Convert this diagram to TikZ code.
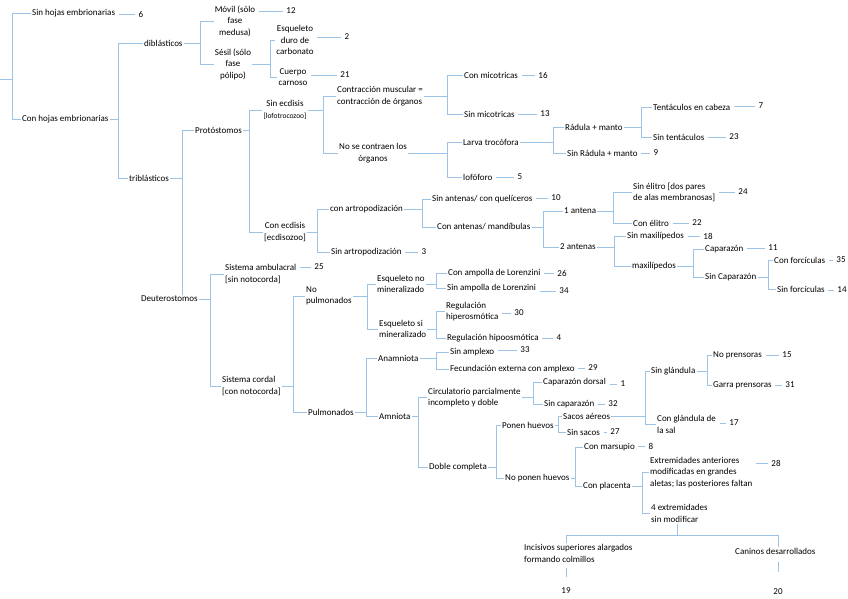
\documentclass[tikz,border=0pt]{standalone}
\usepackage{fontspec}
\setmainfont{Carlito}
\usepackage{xcolor}
\usepackage{tikz}

\definecolor{keyblue}{RGB}{157,195,230}
\newcommand{\keyfont}{\fontsize{9}{11.5}\selectfont}
\newcommand{\smallkey}{\fontsize{7.5}{11.5}\selectfont}

\begin{document}
\begin{tikzpicture}[
    x=1pt, y=-1pt,
    lbl/.style={font=\keyfont, inner sep=1pt, anchor=west, align=left},
    clbl/.style={font=\keyfont, inner sep=1pt, align=center},
    num/.style={font=\keyfont, inner sep=1pt},
    br/.style={draw=keyblue, line width=0.8pt},
    dsh/.style={br, shorten <=2.5pt, shorten >=2.5pt}
]
\useasboundingbox (0,0) rectangle (848,599);

% Nodes
\coordinate (root) at (0,79);
\node[lbl] (sinhojas) at (31,13) {Sin hojas embrionarias};
\node[lbl] (conhojas) at (21,119) {Con hojas embrionarias};
\node[lbl] (dib) at (143,43) {diblásticos};
\node[lbl] (trib) at (128,178) {triblásticos};
\node[clbl] (movil) at (235,21) {Móvil (sólo\\fase\\medusa)};
\node[clbl] (sesil) at (233,64) {Sésil (sólo\\fase\\pólipo)};
\node[clbl] (esq) at (295,40) {Esqueleto\\duro de\\carbonato};
\node[clbl] (cuerpo) at (293,77) {Cuerpo\\carnoso};

\node[lbl] (proto) at (194,130) {Protóstomos};
\node[lbl] (deut) at (140,299) {Deuterostomos};
\node[clbl] (sinecd) at (285,110) {Sin ecdisis\\{\smallkey [lofotrocozoo]}};
\node[clbl] (conecd) at (285,232) {Con ecdisis\\{[ecdisozoo]}};
\node[lbl] (contr) at (336,96) {Contracción muscular =\\contracción de órganos};
\node[clbl] (nocontr) at (373,153) {No se contraen los\\órganos};
\node[lbl] (conmic) at (463,75) {Con micotricas};
\node[lbl] (sinmic) at (463,114) {Sin micotricas};
\node[lbl] (larva) at (462,142) {Larva trocófora};
\node[lbl] (lofo) at (462,177) {lofóforo};
\node[lbl] (radula) at (564,127) {Rádula + manto};
\node[lbl] (sinradula) at (566,153) {Sin Rádula + manto};
\node[lbl] (tent) at (652,107) {Tentáculos en cabeza};
\node[lbl] (sintent) at (652,137) {Sin tentáculos};

\node[lbl] (conart) at (329,209) {con artropodización};
\node[lbl] (sinart) at (330,252) {Sin artropodización};
\node[lbl] (sinant) at (431,199) {Sin antenas/ con quelíceros};
\node[lbl] (conant) at (436,227) {Con antenas/ mandíbulas};
\node[lbl] (ant1) at (563,211) {1 antena};
\node[lbl] (ant2) at (559,247) {2 antenas};
\node[lbl] (sinelitro) at (632,192.5) {Sin élitro [dos pares\\de alas membranosas]};
\node[lbl] (conelitro) at (632,223) {Con élitro};
\node[lbl] (sinmax) at (626,236) {Sin maxilípedos};
\node[lbl] (maxi) at (631,266) {maxilípedos};
\node[lbl] (capa) at (704,249) {Caparazón};
\node[lbl] (sincapa) at (704,277) {Sin Caparazón};
\node[lbl] (conforc) at (773,260) {Con forcículas};
\node[lbl] (sinforc) at (776,289) {Sin forcículas};

\node[lbl] (sisamb) at (224,274) {Sistema ambulacral\\{[sin notocorda]}};
\node[lbl] (siscor) at (221,386) {Sistema cordal\\{[con notocorda]}};
\node[lbl] (nopul) at (305,296) {No\\pulmonados};
\node[lbl] (pulm) at (307,412) {Pulmonados};
\node[lbl] (esqno) at (376,284) {Esqueleto no\\mineralizado};
\node[lbl] (esqsi) at (378,329) {Esqueleto si\\mineralizado};
\node[lbl] (conamp) at (447,273) {Con ampolla de Lorenzini};
\node[lbl] (sinamp) at (446,288) {Sin ampolla de Lorenzini};
\node[lbl] (regh) at (445,311.5) {Regulación\\hiperosmótica};
\node[lbl] (reghipo) at (446,338) {Regulación hipoosmótica};
\node[lbl] (anam) at (377,358) {Anamniota};
\node[lbl] (amni) at (378,416) {Amniota};
\node[lbl] (sinampl) at (449,352) {Sin amplexo};
\node[lbl] (fecund) at (449,369) {Fecundación externa con amplexo};
\node[lbl] (circ) at (427,397.5) {Circulatorio parcialmente\\incompleto y doble};
\node[lbl] (doble) at (428,467) {Doble completa};
\node[lbl] (capdor) at (542,382) {Caparazón dorsal};
\node[lbl] (sincap) at (543,404) {Sin caparazón};
\node[lbl] (ponen) at (501,425) {Ponen huevos};
\node[lbl] (noponen) at (504,478) {No ponen huevos};
\node[lbl] (sacos) at (562,416) {Sacos aéreos};
\node[lbl] (sinsacos) at (566,432) {Sin sacos};
\node[lbl] (singland) at (650,371) {Sin glándula};
\node[lbl] (congland) at (656,424.5) {Con glándula de\\la sal};
\node[lbl] (nopren) at (712,355) {No prensoras};
\node[lbl] (garra) at (712,385) {Garra prensoras};
\node[lbl] (marsu) at (583,447) {Con marsupio};
\node[lbl] (placenta) at (582,486) {Con placenta};
\node[lbl] (extrem) at (649,472.5) {Extremidades anteriores\\modificadas en grandes\\aletas; las posteriores faltan};
\node[lbl] (cuatro) at (650,513.5) {4 extremidades\\sin modificar};
\node[lbl] (incis) at (523,553.5) {Incisivos superiores alargados\\formando colmillos};
\node[lbl] (caninos) at (734,551) {Caninos desarrollados};

% Numbers
\node[num] (n6) at (141,14) {6};
\node[num] (n12) at (291,11) {12};
\node[num] (n2) at (347,37) {2};
\node[num] (n21) at (345,75) {21};
\node[num] (n16) at (543,75) {16};
\node[num] (n13) at (545,114) {13};
\node[num] (n5) at (520,177) {5};
\node[num] (n9) at (656,153) {9};
\node[num] (n7) at (761,106) {7};
\node[num] (n23) at (734,137) {23};
\node[num] (n3) at (424,252) {3};
\node[num] (n10) at (556,198) {10};
\node[num] (n24) at (743,192) {24};
\node[num] (n22) at (697,223) {22};
\node[num] (n18) at (708,236) {18};
\node[num] (n11) at (773,248) {11};
\node[num] (n35) at (841,260) {35};
\node[num] (n14) at (842,290) {14};
\node[num] (n25) at (319,267) {25};
\node[num] (n26) at (562,273) {26};
\node[num] (n34) at (564,291) {34};
\node[num] (n30) at (519,313) {30};
\node[num] (n4) at (559,338) {4};
\node[num] (n33) at (525,350) {33};
\node[num] (n29) at (593,368) {29};
\node[num] (n1) at (623,384) {1};
\node[num] (n32) at (613,404) {32};
\node[num] (n27) at (615,432) {27};
\node[num] (n17) at (734,423) {17};
\node[num] (n15) at (787,355) {15};
\node[num] (n31) at (790,385) {31};
\node[num] (n8) at (651,446) {8};
\node[num] (n28) at (776,463) {28};
\node[num] (n19) at (566,591) {19};
\node[num] (n20) at (778,592) {20};

% Bracket points
\coordinate (vroot) at (12,79);
\coordinate (vcon) at (118,119);
\coordinate (vdib) at (200,43);
\coordinate (vsesil) at (270,64);
\coordinate (vtrib) at (182,178);
\coordinate (vproto) at (249,130);
\coordinate (vsinecd) at (323,110);
\coordinate (vcontr) at (447,96);
\coordinate (vnocontr) at (447,153);
\coordinate (vlarva) at (553,142);
\coordinate (vradula) at (641,127);
\coordinate (vconecd) at (317,232);
\coordinate (vconart) at (422,209);
\coordinate (vconant) at (543,227);
\coordinate (vant1) at (613,211);
\coordinate (vant2) at (614,247);
\coordinate (vmaxi) at (693,266);
\coordinate (vsincapa) at (768,277);
\coordinate (vdeut) at (210,299);
\coordinate (vsiscor) at (293,386);
\coordinate (vnopul) at (367,296);
\coordinate (vesqno) at (436,284);
\coordinate (vesqsi) at (436,329);
\coordinate (vpulm) at (366,412);
\coordinate (vanam) at (436,358);
\coordinate (vamni) at (418,416);
\coordinate (vcirc) at (533,397.5);
\coordinate (vdoble) at (496,467);
\coordinate (vponen) at (558,425);
\coordinate (vsacos) at (645,416);
\coordinate (vsingland) at (707,371);
\coordinate (vnoponen) at (575,478);
\coordinate (vplac) at (642,486);
\coordinate (vcuatro) at (677,535);

% Brackets
\draw[br] (root) -- (vroot) |- (sinhojas.west) (vroot) |- (conhojas.west);
\draw[br] (conhojas) -- (vcon) |- (dib.west) (vcon) |- (trib.west);
\draw[br] (dib) -- (vdib) |- (movil.west) (vdib) |- (sesil.west);
\draw[br] (sesil) -- (vsesil) |- (esq.west) (vsesil) |- (cuerpo.west);
\draw[br] (trib) -- (vtrib) |- (proto.west) (vtrib) -- (vtrib |- deut.north);
\draw[br] (proto) -- (vproto) |- (sinecd.west) (vproto) |- (conecd.west);
\draw[br] (sinecd) -- (vsinecd) |- (contr.west) (vsinecd) |- (nocontr.west);
\draw[br] (contr) -- (vcontr) |- (conmic.west) (vcontr) |- (sinmic.west);
\draw[br] (nocontr) -- (vnocontr) |- (larva.west) (vnocontr) |- (lofo.west);
\draw[br] (larva) -- (vlarva) |- (radula.west) (vlarva) |- (sinradula.west);
\draw[br] (radula) -- (vradula) |- (tent.west) (vradula) |- (sintent.west);
\draw[br] (conecd) -- (vconecd) |- (conart.west) (vconecd) |- (sinart.west);
\draw[br] (conart) -- (vconart) |- (sinant.west) (vconart) |- (conant.west);
\draw[br] (conant) -- (vconant) |- (ant1.west) (vconant) |- (ant2.west);
\draw[br] (ant1) -- (vant1) |- (sinelitro.west) (vant1) |- (conelitro.west);
\draw[br] (ant2) -- (vant2) |- (sinmax.west) (vant2) |- (maxi.west);
\draw[br] (maxi) -- (vmaxi) |- (capa.west) (vmaxi) |- (sincapa.west);
\draw[br] (sincapa) -- (vsincapa) |- (conforc.west) (vsincapa) |- (sinforc.west);
\draw[br] (deut) -- (vdeut) |- (sisamb.west) (vdeut) |- (siscor.west);
\draw[br] (siscor) -- (vsiscor) |- (nopul.west) (vsiscor) |- (pulm.west);
\draw[br] (nopul) -- (vnopul) |- (esqno.west) (vnopul) |- (esqsi.west);
\draw[br] (esqno) -- (vesqno) |- (conamp.west) (vesqno) |- (sinamp.west);
\draw[br] (esqsi) -- (vesqsi) |- (regh.west) (vesqsi) |- (reghipo.west);
\draw[br] (pulm) -- (vpulm) |- (anam.west) (vpulm) |- (amni.west);
\draw[br] (anam) -- (vanam) |- (sinampl.west) (vanam) |- (fecund.west);
\draw[br] (amni) -- (vamni) |- (circ.west) (vamni) |- (doble.west);
\draw[br] (circ) -- (vcirc) |- (capdor.west) (vcirc) |- (sincap.west);
\draw[br] (doble) -- (vdoble) |- (ponen.west) (vdoble) |- (noponen.west);
\draw[br] (ponen) -- (vponen) |- (sacos.west) (vponen) |- (sinsacos.west);
\draw[br] (sacos) -- (vsacos) |- (singland.west) (vsacos) |- (congland.west);
\draw[br] (singland) -- (vsingland) |- (nopren.west) (vsingland) |- (garra.west);
\draw[br] (noponen) -- (vnoponen) |- (marsu.west) (vnoponen) |- (placenta.west);
\draw[br] (placenta) -- (vplac) |- (extrem.west) (vplac) |- (cuatro.west);
\draw[br] (cuatro.south -| vcuatro) -- (vcuatro) -| (n19 |- incis.north) (vcuatro) -| (n20 |- caninos.north);
\draw[br, shorten <=4pt, shorten >=10pt] (n19 |- incis.south) -- (n19.north);
\draw[br, shorten <=7pt, shorten >=16pt] (n20 |- caninos.south) -- (n20.north);

% Leaf dashes
\draw[dsh] (sinhojas.east |- n6) -- (n6.west);
\draw[dsh] (movil.east |- n12) -- (n12.west);
\draw[dsh] (esq.east |- n2) -- (n2.west);
\draw[dsh] (cuerpo.east |- n21) -- (n21.west);
\draw[dsh] (conmic.east |- n16) -- (n16.west);
\draw[dsh] (sinmic.east |- n13) -- (n13.west);
\draw[dsh] (lofo.east |- n5) -- (n5.west);
\draw[dsh] (sinradula.east |- n9) -- (n9.west);
\draw[dsh] (tent.east |- n7) -- (n7.west);
\draw[dsh] (sintent.east |- n23) -- (n23.west);
\draw[dsh] (sinart.east |- n3) -- (n3.west);
\draw[dsh] (sinant.east |- n10) -- (n10.west);
\draw[dsh] (sinelitro.east |- n24) -- (n24.west);
\draw[dsh] (conelitro.east |- n22) -- (n22.west);
\draw[dsh] (sinmax.east |- n18) -- (n18.west);
\draw[dsh] (capa.east |- n11) -- (n11.west);
\draw[dsh] (conforc.east |- n35) -- (n35.west);
\draw[dsh] (sinforc.east |- n14) -- (n14.west);
\draw[dsh] (sisamb.east |- n25) -- (n25.west);
\draw[dsh] (conamp.east |- n26) -- (n26.west);
\draw[dsh] (sinamp.east |- n34) -- (n34.west);
\draw[dsh] (regh.east |- n30) -- (n30.west);
\draw[dsh] (reghipo.east |- n4) -- (n4.west);
\draw[dsh] (sinampl.east |- n33) -- (n33.west);
\draw[dsh] (fecund.east |- n29) -- (n29.west);
\draw[dsh] (capdor.east |- n1) -- (n1.west);
\draw[dsh] (sincap.east |- n32) -- (n32.west);
\draw[dsh] (sinsacos.east |- n27) -- (n27.west);
\draw[dsh] (congland.east |- n17) -- (n17.west);
\draw[dsh] (nopren.east |- n15) -- (n15.west);
\draw[dsh] (garra.east |- n31) -- (n31.west);
\draw[dsh] (marsu.east |- n8) -- (n8.west);
\draw[dsh] (extrem.east |- n28) -- (n28.west);
\end{tikzpicture}
\end{document}
